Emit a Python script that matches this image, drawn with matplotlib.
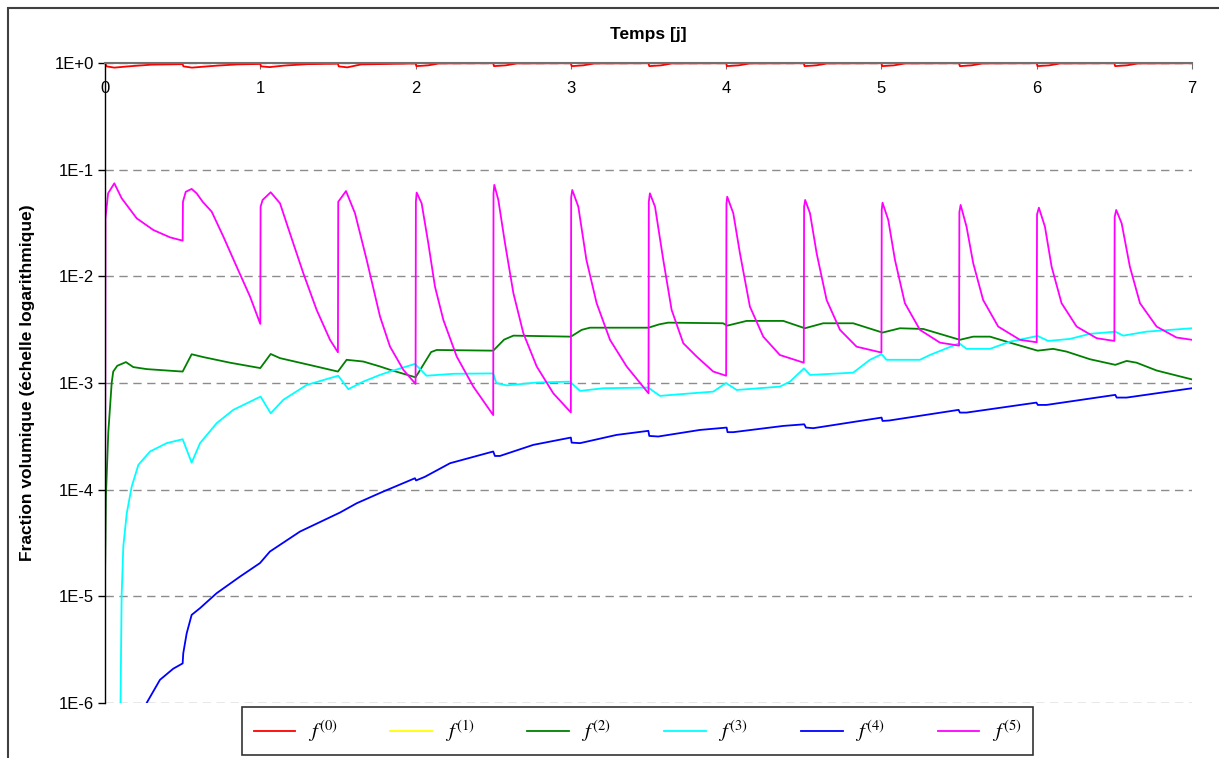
import matplotlib

matplotlib.use("Agg")
import matplotlib.pyplot as plt
from matplotlib.patches import Rectangle
from matplotlib.ticker import FixedLocator, FixedFormatter, NullLocator

plt.rcParams["font.family"] = ["Liberation Sans", "DejaVu Sans"]
plt.rcParams["mathtext.fontset"] = "stix"

# --- data (time in days, volume fraction) ---
f0_t = [0.0, 0.01, 0.06, 0.15, 0.30, 0.50,
        0.505, 0.56, 0.70, 0.85, 1.00,
        1.005, 1.06, 1.15, 1.30, 1.50,
        1.505, 1.56, 1.65, 2.00,
        2.005, 2.08, 2.15, 2.50,
        2.505, 2.58, 2.65, 3.00,
        3.005, 3.08, 3.15, 3.50,
        3.505, 3.58, 3.65, 4.00,
        4.005, 4.08, 4.15, 4.50,
        4.505, 4.58, 4.65, 5.00,
        5.005, 5.08, 5.15, 5.50,
        5.505, 5.58, 5.65, 6.00,
        6.005, 6.08, 6.15, 6.50,
        6.505, 6.58, 6.65, 7.00]
f0_v = [1.0, 0.93, 0.905, 0.93, 0.965, 0.975,
        0.93, 0.905, 0.94, 0.97, 0.98,
        0.93, 0.915, 0.945, 0.975, 0.985,
        0.93, 0.91, 0.97, 0.99,
        0.935, 0.95, 0.99, 0.995,
        0.935, 0.95, 0.99, 0.995,
        0.935, 0.95, 0.99, 0.995,
        0.935, 0.95, 0.99, 0.995,
        0.935, 0.95, 0.99, 0.995,
        0.935, 0.95, 0.99, 0.995,
        0.935, 0.95, 0.99, 0.995,
        0.935, 0.95, 0.99, 0.995,
        0.935, 0.95, 0.99, 0.995,
        0.935, 0.95, 0.99, 0.995]

f1_t = []
f1_v = []

f2_t = [0.0, 0.006, 0.021, 0.043, 0.053, 0.079, 0.135, 0.182, 0.268, 0.397, 0.5,
        0.558, 0.633, 0.805, 1.0,
        1.067, 1.127, 1.341, 1.5,
        1.556, 1.663, 1.77, 1.835, 2.0,
        2.1, 2.136, 2.5,
        2.57, 2.63, 3.0,
        3.07, 3.123, 3.5,
        3.57, 3.627, 3.98, 4.007,
        4.132, 4.368, 4.507,
        4.625, 4.818, 5.007,
        5.119, 5.27, 5.505,
        5.591, 5.699, 5.827, 6.006,
        6.106, 6.192, 6.343, 6.506,
        6.579, 6.643, 6.772, 7.0]
f2_v = [1.5e-5, 8.7e-5, 3.4e-4, 1.0e-3, 1.28e-3, 1.45e-3, 1.57e-3, 1.41e-3, 1.35e-3, 1.31e-3, 1.28e-3,
        1.86e-3, 1.75e-3, 1.55e-3, 1.38e-3,
        1.87e-3, 1.71e-3, 1.45e-3, 1.28e-3,
        1.65e-3, 1.59e-3, 1.43e-3, 1.33e-3, 1.13e-3,
        1.95e-3, 2.04e-3, 2.01e-3,
        2.55e-3, 2.78e-3, 2.72e-3,
        3.15e-3, 3.3e-3, 3.3e-3,
        3.55e-3, 3.68e-3, 3.63e-3, 3.45e-3,
        3.82e-3, 3.82e-3, 3.26e-3,
        3.63e-3, 3.63e-3, 2.97e-3,
        3.26e-3, 3.21e-3, 2.54e-3,
        2.72e-3, 2.72e-3, 2.39e-3, 2.01e-3,
        2.09e-3, 1.97e-3, 1.67e-3, 1.48e-3,
        1.61e-3, 1.55e-3, 1.31e-3, 1.08e-3]

f3_t = [0.099, 0.1, 0.107, 0.118, 0.14, 0.172, 0.215, 0.29, 0.397, 0.5,
        0.558, 0.612, 0.719, 0.826, 1.002,
        1.067, 1.148, 1.299, 1.502,
        1.567, 1.663, 1.77, 1.835, 1.996,
        2.071, 2.243, 2.5,
        2.52, 2.587, 2.78, 2.994,
        3.059, 3.209, 3.498,
        3.574, 3.703, 3.917, 3.999,
        4.068, 4.346, 4.411, 4.501,
        4.54, 4.818, 4.926, 5.001,
        5.033, 5.248, 5.312, 5.501,
        5.548, 5.699, 5.827, 6.006,
        6.074, 6.214, 6.343, 6.506,
        6.557, 6.707, 7.0]
f3_v = [5e-7, 1e-6, 1e-5, 2.95e-5, 6e-5, 1.07e-4, 1.71e-4, 2.28e-4, 2.73e-4, 2.97e-4,
        1.79e-4, 2.73e-4, 4.2e-4, 5.6e-4, 7.46e-4,
        5.2e-4, 6.95e-4, 9.6e-4, 1.17e-3,
        8.75e-4, 1.03e-3, 1.19e-3, 1.28e-3, 1.51e-3,
        1.17e-3, 1.22e-3, 1.23e-3,
        1.0e-3, 9.5e-4, 1.01e-3, 1.03e-3,
        8.43e-4, 8.93e-4, 9.06e-4,
        7.57e-4, 7.85e-4, 8.3e-4, 1.0e-3,
        8.6e-4, 9.25e-4, 1.03e-3, 1.37e-3,
        1.19e-3, 1.25e-3, 1.65e-3, 1.86e-3,
        1.65e-3, 1.65e-3, 1.83e-3, 2.36e-3,
        2.09e-3, 2.09e-3, 2.44e-3, 2.76e-3,
        2.48e-3, 2.59e-3, 2.89e-3, 3.03e-3,
        2.78e-3, 3.03e-3, 3.26e-3]

f4_t = [0.26, 0.268, 0.354, 0.44, 0.5, 0.504, 0.526, 0.558, 0.612, 0.719,
        0.869, 0.998, 1.062, 1.256, 1.513, 1.621, 1.792, 1.996, 2.003, 2.06,
        2.222, 2.5, 2.511, 2.543, 2.758, 3.0, 3.005, 3.059, 3.294, 3.499,
        3.505, 3.563, 3.831, 4.003, 4.009, 4.046, 4.368, 4.503, 4.514, 4.561,
        5.001, 5.007, 5.05, 5.497, 5.505, 5.548, 5.998, 6.007, 6.063, 6.506,
        6.515, 6.579, 7.0]
f4_v = [8e-7, 1e-6, 1.65e-6, 2.1e-6, 2.35e-6, 2.93e-6, 4.5e-6, 6.7e-6, 7.75e-6, 1.07e-5,
        1.53e-5, 2.05e-5, 2.63e-5, 4.05e-5, 6.1e-5, 7.46e-5, 9.6e-5, 1.28e-4, 1.22e-4, 1.32e-4,
        1.77e-4, 2.28e-4, 2.07e-4, 2.07e-4, 2.63e-4, 3.08e-4, 2.76e-4, 2.73e-4, 3.26e-4, 3.56e-4,
        3.19e-4, 3.15e-4, 3.63e-4, 3.82e-4, 3.46e-4, 3.46e-4, 3.96e-4, 4.1e-4, 3.82e-4, 3.77e-4,
        4.74e-4, 4.41e-4, 4.45e-4, 5.6e-4, 5.28e-4, 5.28e-4, 6.55e-4, 6.23e-4, 6.23e-4, 7.74e-4,
        7.3e-4, 7.3e-4, 8.93e-4]

f5_t = [0.0, 0.003, 0.02, 0.06, 0.107, 0.204, 0.311, 0.419, 0.5,
        0.502, 0.52, 0.558, 0.59, 0.629, 0.687, 0.762, 0.848, 0.934, 1.0,
        1.002, 1.015, 1.067, 1.127, 1.191, 1.277, 1.363, 1.449, 1.5,
        1.502, 1.552, 1.61, 1.685, 1.771, 1.835, 1.921, 2.0,
        2.002, 2.007, 2.039, 2.082, 2.125, 2.179, 2.265, 2.372, 2.5,
        2.502, 2.507, 2.533, 2.576, 2.63, 2.694, 2.78, 2.887, 3.0,
        3.002, 3.009, 3.048, 3.1, 3.166, 3.252, 3.359, 3.5,
        3.502, 3.509, 3.542, 3.595, 3.649, 3.724, 3.81, 3.917, 4.0,
        4.002, 4.007, 4.046, 4.089, 4.153, 4.239, 4.346, 4.5,
        4.502, 4.509, 4.54, 4.583, 4.647, 4.733, 4.84, 5.0,
        5.002, 5.007, 5.044, 5.087, 5.151, 5.248, 5.377, 5.5,
        5.502, 5.51, 5.548, 5.591, 5.655, 5.752, 5.892, 6.0,
        6.002, 6.014, 6.053, 6.096, 6.16, 6.257, 6.386, 6.5,
        6.502, 6.512, 6.547, 6.6, 6.665, 6.772, 6.9, 7.0]
f5_v = [1e-6, 0.035, 0.06, 0.0745, 0.054, 0.035, 0.0272, 0.0232, 0.0216,
        0.05, 0.062, 0.066, 0.060, 0.050, 0.0404, 0.0236, 0.0123, 0.00646, 0.00358,
        0.045, 0.052, 0.0614, 0.0484, 0.0253, 0.0107, 0.00484, 0.00254, 0.00194,
        0.05, 0.063, 0.039, 0.0143, 0.0042, 0.0022, 0.00133, 0.00098,
        0.05, 0.061, 0.0484, 0.0204, 0.008, 0.0039, 0.00177, 0.000925, 0.0005,
        0.06, 0.072, 0.052, 0.0204, 0.00695, 0.00293, 0.00143, 0.0008, 0.00053,
        0.055, 0.0645, 0.045, 0.0143, 0.0056, 0.00254, 0.00143, 0.0008,
        0.05, 0.060, 0.045, 0.0143, 0.00484, 0.00236, 0.00177, 0.00128, 0.00117,
        0.048, 0.0558, 0.039, 0.0164, 0.0052, 0.00272, 0.00183, 0.00155,
        0.045, 0.052, 0.039, 0.0164, 0.006, 0.00315, 0.00219, 0.00193,
        0.042, 0.049, 0.0338, 0.0143, 0.0056, 0.00315, 0.00239, 0.00224,
        0.04, 0.0467, 0.0292, 0.0133, 0.006, 0.00338, 0.00254, 0.00241,
        0.038, 0.044, 0.0292, 0.0123, 0.0056, 0.00338, 0.00263, 0.00248,
        0.036, 0.0419, 0.0314, 0.0123, 0.0056, 0.00338, 0.00267, 0.00254]

series = [
    (f0_t, f0_v, "#FF0000", r"$f^{(0)}$"),
    (f1_t, f1_v, "#FFFF00", r"$f^{(1)}$"),
    (f2_t, f2_v, "#008000", r"$f^{(2)}$"),
    (f3_t, f3_v, "#00FFFF", r"$f^{(3)}$"),
    (f4_t, f4_v, "#0000FF", r"$f^{(4)}$"),
    (f5_t, f5_v, "#FF00FF", r"$f^{(5)}$"),
]

y_ticks = [1e0, 1e-1, 1e-2, 1e-3, 1e-4, 1e-5, 1e-6]
y_labels = ["1E+0", "1E-1", "1E-2", "1E-3", "1E-4", "1E-5", "1E-6"]
x_ticks = [0, 1, 2, 3, 4, 5, 6, 7]

W, H = 1219, 758
fig = plt.figure(figsize=(W / 100, H / 100), dpi=100)
ax = fig.add_axes([105 / W, 1 - 703 / H, (1192 - 105) / W, (703 - 63) / H])

# outer chart border
fig.patches.append(Rectangle((8 / W, -0.05), 1.2, 1.05 - 8 / H, transform=fig.transFigure,
                             fill=False, ec="#404040", lw=1.5))

for t, v, c, lab in series:
    ax.plot(t, v, color=c, lw=1.3, label=lab)

ax.set_yscale("log")
ax.set_ylim(1e-6, 1.0)
ax.set_xlim(0, 7)
ax.yaxis.set_major_locator(FixedLocator(y_ticks))
ax.yaxis.set_major_formatter(FixedFormatter(y_labels))
ax.yaxis.set_minor_locator(NullLocator())
ax.xaxis.set_major_locator(FixedLocator(x_ticks))

ax.yaxis.grid(True, linestyle=(0, (6, 4)), color="#8c8c8c", lw=1)
ax.set_axisbelow(True)

for side in ("right", "bottom"):
    ax.spines[side].set_visible(False)
ax.spines["left"].set_color("black")
ax.spines["left"].set_linewidth(1)
ax.spines["top"].set_color("#707070")
ax.spines["top"].set_linewidth(1.5)

ax.tick_params(axis="x", bottom=False, labelbottom=False, top=True, labeltop=True,
               direction="in", length=4, color="#707070", pad=-24, labelsize=12)
ax.tick_params(axis="y", direction="out", length=5, width=1, labelsize=12, pad=3)

ax.set_ylabel("Fraction volumique (échelle logarithmique)", fontsize=12.5,
              fontweight="bold", labelpad=14)
fig.text(648.5 / W, 1 - 35 / H, "Temps [j]", ha="center", va="center",
         fontsize=12.5, fontweight="bold")

leg = ax.legend(loc="center", bbox_to_anchor=(637.5 / W, 1 - 731 / H),
                bbox_transform=fig.transFigure, ncol=6, frameon=True, fancybox=False,
                edgecolor="black", fontsize=15, handlelength=2.0, handletextpad=0.6,
                columnspacing=2.55, borderpad=0.55)
leg.get_frame().set_linewidth(1.2)

fig.savefig("out.png", dpi=100)
